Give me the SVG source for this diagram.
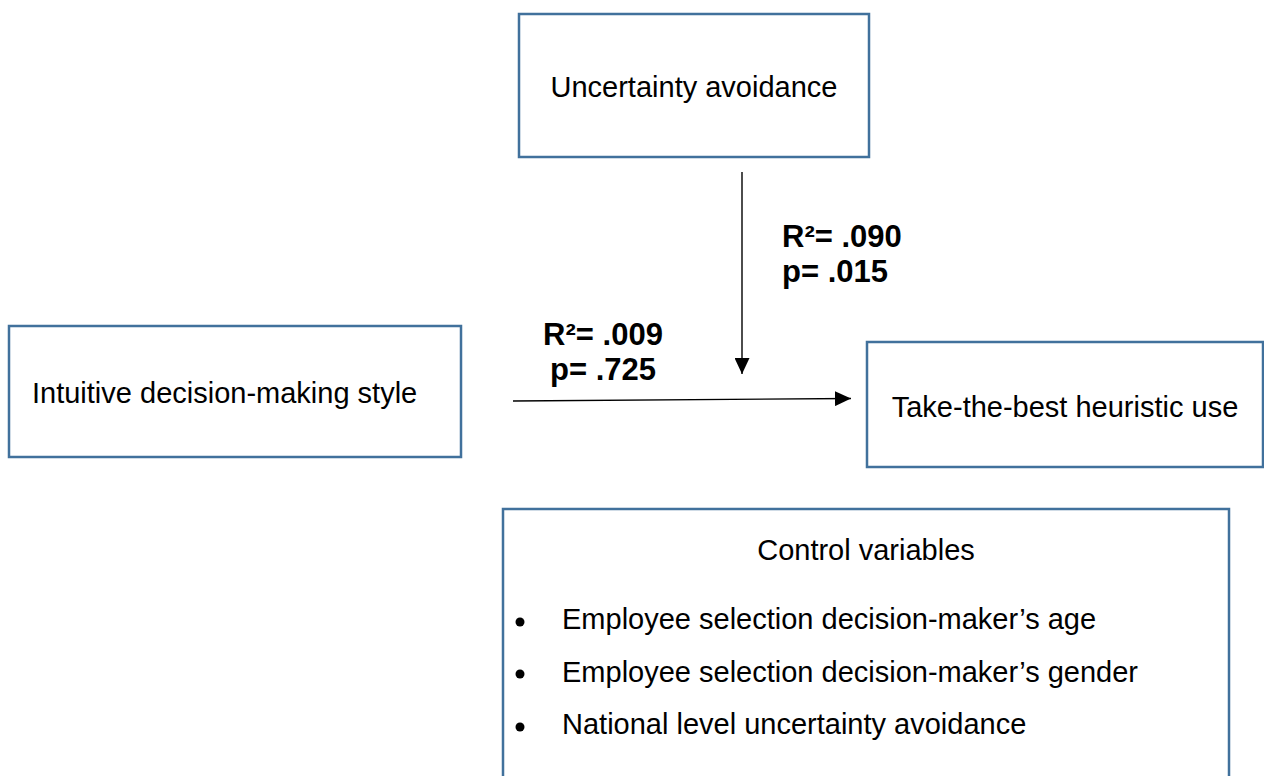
<svg xmlns="http://www.w3.org/2000/svg" width="1264" height="776" viewBox="0 0 1264 776">
  <style>
    .box { fill: #ffffff; stroke: #41719C; stroke-width: 2.5; }
    .lbl { font-family: "Liberation Sans", Arial, sans-serif; font-size: 29px; fill: #000000; }
    .stat { font-family: "Liberation Sans", Arial, sans-serif; font-size: 31px; font-weight: bold; fill: #000000; }
    .conn { stroke: #000000; stroke-width: 1.4; fill: none; marker-end: url(#arrow); }
  </style>
  <defs>
    <marker id="arrow" markerUnits="userSpaceOnUse" markerWidth="16" markerHeight="15" refX="16" refY="7.5" orient="auto">
      <path d="M0,0 L16,7.5 L0,15 z" fill="#000000"/>
    </marker>
  </defs>
  <rect width="1264" height="776" fill="#ffffff"/>

  <g id="node-uncertainty">
    <rect class="box" x="519" y="14" width="350" height="143"/>
    <text class="lbl" x="694" y="97" text-anchor="middle">Uncertainty avoidance</text>
  </g>

  <g id="node-intuitive">
    <rect class="box" x="9" y="326" width="452" height="131"/>
    <text class="lbl" x="32" y="403">Intuitive decision-making style</text>
  </g>

  <g id="node-takethebest">
    <rect class="box" x="867" y="342" width="396" height="125"/>
    <text class="lbl" x="1065" y="417" text-anchor="middle">Take-the-best heuristic use</text>
  </g>

  <g id="node-controls">
    <rect class="box" x="503" y="509" width="726" height="280"/>
    <text class="lbl" x="866" y="560" text-anchor="middle">Control variables</text>
    <circle cx="520" cy="622" r="4.5" fill="#000000"/>
    <text class="lbl" x="562" y="629">Employee selection decision-maker’s age</text>
    <circle cx="520" cy="674" r="4.5" fill="#000000"/>
    <text class="lbl" x="562" y="682">Employee selection decision-maker’s gender</text>
    <circle cx="520" cy="727" r="4.5" fill="#000000"/>
    <text class="lbl" x="562" y="734">National level uncertainty avoidance</text>
  </g>

  <g id="connectors">
    <line class="conn" x1="742" y1="172" x2="742" y2="374"/>
    <line class="conn" x1="513" y1="401" x2="851" y2="398.5"/>
  </g>

  <g id="labels">
    <text class="stat" x="782" y="247">R²= .090</text>
    <text class="stat" x="782" y="282">p= .015</text>
    <text class="stat" x="603" y="345" text-anchor="middle">R²= .009</text>
    <text class="stat" x="603" y="380" text-anchor="middle">p= .725</text>
  </g>
</svg>
